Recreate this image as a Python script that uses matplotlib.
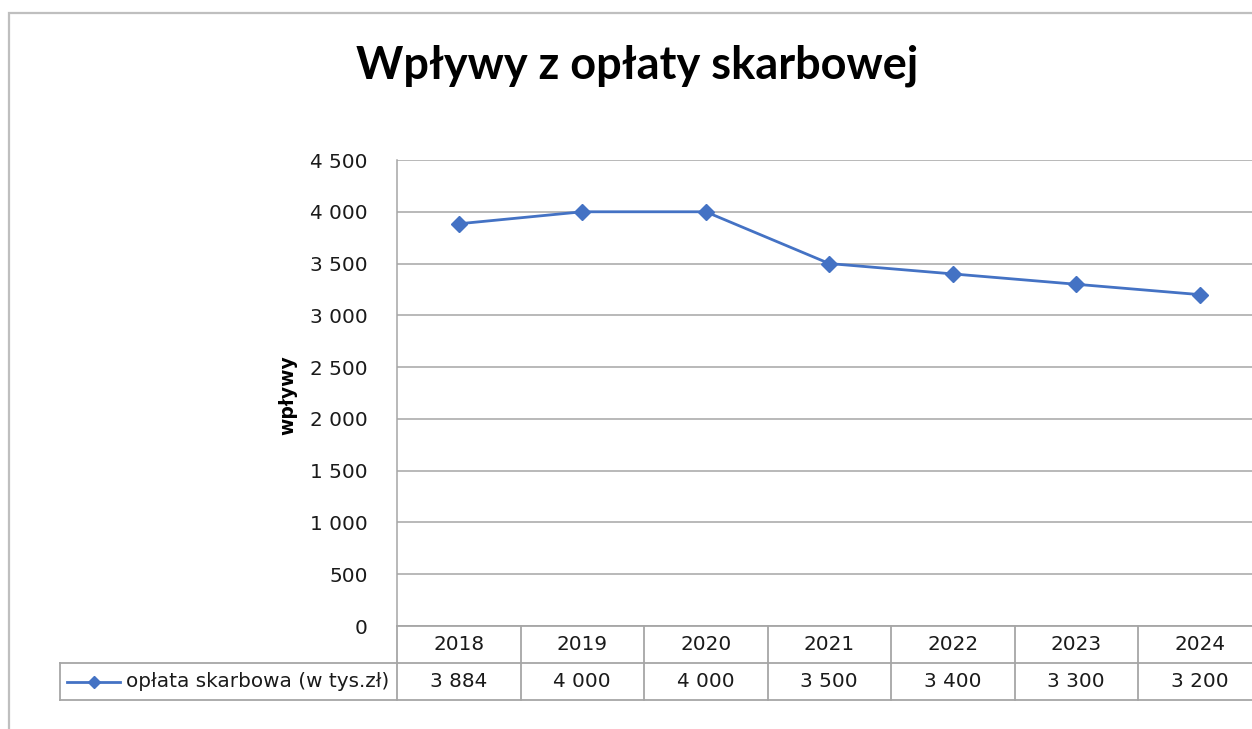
import matplotlib.pyplot as plt
from matplotlib.patches import Rectangle

plt.rcParams['font.family'] = ['DejaVu Sans']

years = ['2018', '2019', '2020', '2021', '2022', '2023', '2024']
values = [3884, 4000, 4000, 3500, 3400, 3300, 3200]
series_name = 'opłata skarbowa (w tys.zł)'
title = 'Wpływy z opłaty skarbowej'
ylabel = 'wpływy'

W, H = 1252, 729
blue = '#4472C4'
grid = '#a6a6a6'
border = '#bfbfbf'
txt = '#1a1a1a'
fs = 14.4


def fmt(v):
    return f'{v:,}'.replace(',', ' ')


fig = plt.figure(figsize=(W / 100, H / 100), dpi=100)

# outer chart frame (runs off right/bottom edges)
fig.add_artist(Rectangle((9 / W, -0.1), 1.2, 1 - 13 / H + 0.1, transform=fig.transFigure,
                         fill=False, edgecolor=border, linewidth=1.6, clip_on=False))

# plot area in pixel coords
left, right, top, bottom = 397, 1261.5, 160, 626
ax = fig.add_axes([left / W, 1 - bottom / H, (right - left) / W, (bottom - top) / H])
xs = [i + 0.5 for i in range(len(years))]
ax.plot(xs, values, color=blue, linewidth=2, marker='D', markersize=8,
        markeredgecolor=blue, markerfacecolor=blue)
ax.set_xlim(0, len(years))
ax.set_ylim(0, 4500)
ax.set_yticks(range(0, 4501, 500))
ax.set_yticklabels([fmt(v) for v in range(0, 4501, 500)], fontsize=fs, color=txt)
ax.set_xticks([])
ax.tick_params(axis='y', length=0, pad=21)
ax.yaxis.grid(True, color=grid, linewidth=1.1)
ax.set_axisbelow(True)
for s in ['top', 'right', 'bottom']:
    ax.spines[s].set_visible(False)
ax.spines['left'].set_color(grid)
ax.spines['left'].set_linewidth(1.1)

fig.text(288 / W, 1 - 395 / H, ylabel, rotation=90, fontsize=13.5, fontweight='bold',
         ha='center', va='center', color='black')
fig.text(637 / W, 1 - 66 / H, title, family=['Lato', 'DejaVu Sans'], fontsize=32.5,
         fontweight='bold', ha='center', va='center', color='black')

# data table below the plot
tleft, tbottom = 60, 700
leg_w = (left - tleft) / ((right - left) / len(years))
tab = fig.add_axes([tleft / W, 1 - tbottom / H, (right - tleft) / W, (tbottom - bottom) / H])
tab.set_xlim(-leg_w, len(years))
tab.set_ylim(0, 2)
tab.axis('off')
lw = 1.3
tab.plot([0, len(years)], [2, 2], color=grid, lw=lw, clip_on=False)
tab.plot([-leg_w, len(years)], [1, 1], color=grid, lw=lw, clip_on=False)
tab.plot([-leg_w, len(years)], [0, 0], color=grid, lw=lw, clip_on=False)
tab.plot([-leg_w, -leg_w], [0, 1], color=grid, lw=lw, clip_on=False)
for i in range(len(years) + 1):
    tab.plot([i, i], [0, 2], color=grid, lw=lw, clip_on=False)
for i, (yr, v) in enumerate(zip(years, values)):
    tab.text(i + 0.5, 1.5, yr, ha='center', va='center', fontsize=fs, color=txt)
    tab.text(i + 0.5, 0.5, fmt(v), ha='center', va='center', fontsize=fs, color=txt)

# legend key inside the first cell
kx0 = -leg_w + 7 / 123.5
kx1 = -leg_w + 60 / 123.5
tab.plot([kx0, kx1], [0.5, 0.5], color=blue, lw=2)
tab.plot([(kx0 + kx1) / 2], [0.5], marker='D', markersize=6, color=blue)
tab.text(kx1 + 6 / 123.5, 0.5, series_name, ha='left', va='center', fontsize=fs, color=txt)

fig.savefig('out.png', dpi=100)
